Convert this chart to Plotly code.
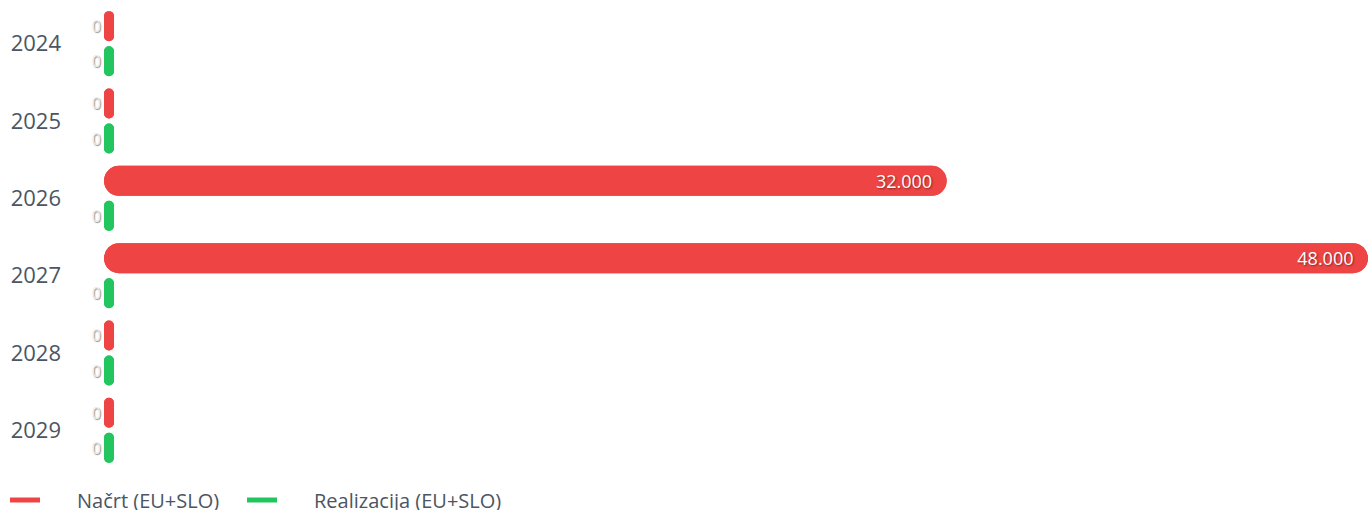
import plotly.graph_objects as go

# ---- data ----
years = ["2024", "2025", "2026", "2027", "2028", "2029"]
nacrt = [0, 0, 32000, 48000, 0, 0]
realizacija = [0, 0, 0, 0, 0, 0]
series_names = ["Načrt (EU+SLO)", "Realizacija (EU+SLO)"]

# ---- style ----
colors = ["#EF4444", "#22C55E"]
groups = ["a", "b"]
legends = ["legend", "legend2"]
MIN_STUB = 380          # visible stub length for zero values (axis units)
X_MAX = max(nacrt + realizacija)
TEXT_COLOR = "#4b5563"
FONT = "Open Sans"


def fmt(v):
    return f"{v:,}".replace(",", ".")


fig = go.Figure()
for name, vals, col, grp, lg in zip(series_names, [nacrt, realizacija], colors, groups, legends):
    disp = [v if v > 0 else MIN_STUB for v in vals]
    # reverse bar (rounds the left end) + zero labels outside on the left
    fig.add_trace(go.Bar(
        y=years, x=[-d for d in disp], base=disp, orientation="h",
        marker=dict(color=col, line=dict(width=0)), offsetgroup=grp,
        text=["0" if v == 0 else "" for v in vals], textposition="outside",
        constraintext="none",
        outsidetextfont=dict(family=FONT, size=16, color="#ececec",
                             shadow="1px 1px 1px rgba(110,110,110,0.8)"),
        cliponaxis=False, showlegend=False, hoverinfo="skip",
    ))
    # forward bar (rounds the right end) + value labels inside
    fig.add_trace(go.Bar(
        y=years, x=disp, base=0, orientation="h",
        marker=dict(color=col, line=dict(width=0)), offsetgroup=grp,
        text=[fmt(v) if v > 0 else "" for v in vals], textposition="inside",
        insidetextanchor="end", constraintext="none",
        insidetextfont=dict(family=FONT, size=18, color="white",
                            shadow="1px 1px 2px rgba(0,0,0,0.45)"),
        showlegend=False, name=name,
    ))
    # legend entry (dash keeps the legend swatch short)
    fig.add_trace(go.Scatter(
        x=[None], y=[None], mode="lines", name=name, legend=lg,
        line=dict(color=col, width=5, dash="30px,200px"), hoverinfo="skip",
    ))

legend_style = dict(orientation="h", y=-0.0247, xanchor="left", yanchor="top",
                    itemwidth=62, bgcolor="rgba(0,0,0,0)",
                    font=dict(family=FONT, size=20, color=TEXT_COLOR))

fig.update_layout(
    width=1368, height=510,
    margin=dict(l=104, r=0, t=5, b=41, autoexpand=False),
    barmode="group", bargap=0.094, bargroupgap=0.143, barcornerradius=15,
    paper_bgcolor="white", plot_bgcolor="white",
    font=dict(family=FONT, color=TEXT_COLOR),
    separators=",.",
    xaxis=dict(range=[0, X_MAX], visible=False),
    yaxis=dict(type="category", autorange="reversed", showgrid=False,
               zeroline=False, showline=False, ticks="",
               ticklabelstandoff=42,
               tickfont=dict(family=FONT, size=22, color=TEXT_COLOR)),
    legend=dict(x=-0.0783, **legend_style),
    legend2=dict(x=0.1092, **legend_style),
    showlegend=True,
)

fig.write_html("out.html")
